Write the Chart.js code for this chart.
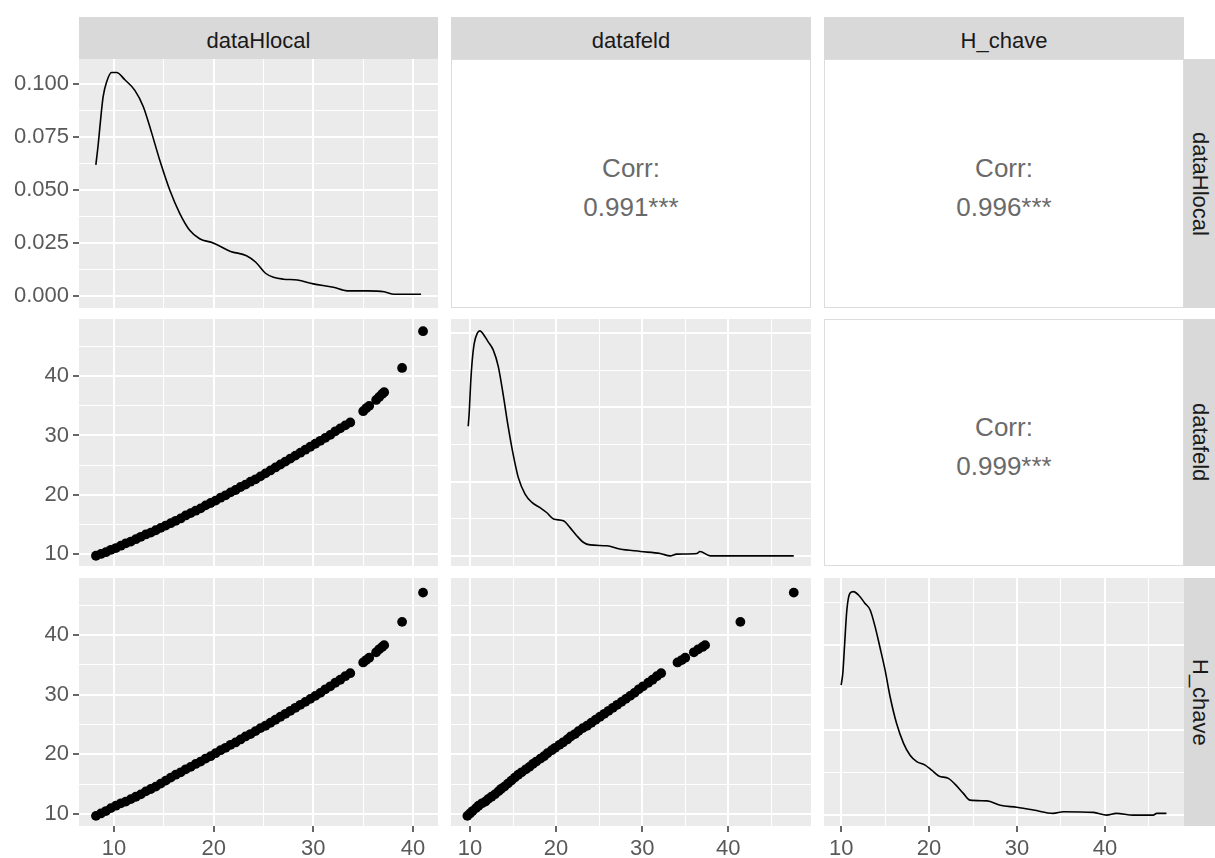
<!DOCTYPE html>
<html>
<head>
<meta charset="utf-8">
<script src="https://cdn.jsdelivr.net/npm/chart.js@4.4.0/dist/chart.umd.min.js"></script>
<style>
  body { margin: 0; background: #fff; width: 1215px; height: 858px; position: relative; overflow: hidden;
         font-family: "Liberation Sans", Arial, sans-serif; }
  .strip { position: absolute; background: #d9d9d9; color: #1a1a1a; font-size: 22px;
           display: flex; align-items: center; justify-content: center; }
  .strip span { position: relative; top: 3px; }
  .strip.right span { writing-mode: vertical-rl; top: 0; left: 0; }
  .corr { position: absolute; background: #fff; border: 1px solid #dcdcdc; box-sizing: border-box;
          display: flex; flex-direction: column; align-items: center; justify-content: center;
          color: #6a6a6a; font-size: 26px; line-height: 39px; padding-top: 8px; }
</style>
</head>
<body>
<script>
// variables of the pairs plot
const varNames = ['dataHlocal', 'datafeld', 'H_chave'];

const dataHlocal = [8.2, 8.7, 9.2, 9.7, 10.2, 10.7, 11.2, 11.7, 12.2, 12.7, 13.2, 13.7, 14.2, 14.7, 15.2, 15.7,
  16.2, 16.7, 17.2, 17.7, 18.2, 18.7, 19.2, 19.7, 20.2, 20.7, 21.2, 21.7, 22.2, 22.7, 23.2, 23.7, 24.2, 24.7,
  25.2, 25.7, 26.2, 26.7, 27.2, 27.7, 28.2, 28.7, 29.2, 29.7, 30.2, 30.7, 31.2, 31.7, 32.2, 32.7, 33.2, 33.7,
  35.0, 35.3, 35.6, 36.3, 36.6, 36.9, 37.1, 38.9, 41.0];
const datafeld = [9.7, 10.0, 10.3, 10.7, 11.0, 11.4, 11.8, 12.1, 12.5, 12.9, 13.3, 13.6, 14.0, 14.4, 14.8, 15.2,
  15.6, 16.0, 16.5, 16.9, 17.3, 17.7, 18.2, 18.6, 19.0, 19.5, 19.9, 20.4, 20.8, 21.3, 21.7, 22.2, 22.6, 23.1,
  23.6, 24.1, 24.6, 25.1, 25.6, 26.1, 26.6, 27.1, 27.6, 28.1, 28.6, 29.1, 29.6, 30.1, 30.7, 31.2, 31.7, 32.2,
  34.1, 34.6, 35.0, 36.0, 36.5, 37.0, 37.3, 41.4, 47.6];
const H_chave = [9.7, 10.1, 10.5, 11.0, 11.4, 11.8, 12.1, 12.5, 12.9, 13.3, 13.8, 14.2, 14.6, 15.1, 15.6, 16.1,
  16.6, 17.0, 17.5, 17.9, 18.4, 18.8, 19.3, 19.7, 20.2, 20.7, 21.1, 21.6, 22.0, 22.5, 23.0, 23.4, 23.9, 24.4,
  24.8, 25.3, 25.8, 26.3, 26.8, 27.3, 27.8, 28.3, 28.8, 29.3, 29.8, 30.3, 30.9, 31.4, 32.0, 32.5, 33.1, 33.6,
  35.4, 35.8, 36.2, 37.1, 37.6, 38.0, 38.3, 42.2, 47.1];

// diagonal density curves
const densHlocalX = [8.19, 8.42, 8.6, 8.92, 9.27, 9.77, 10.27, 11.1, 12.1, 12.95, 13.8, 14.6, 15.6, 16.6, 17.6,
  18.6, 19.95, 21.7, 23.3, 24.2, 25.2, 26.0, 27.0, 28.4, 30.0, 32.0, 33.4, 35.4, 37.1, 38.1, 40.8];
const densHlocalY = [0.0618, 0.0712, 0.080, 0.094, 0.101, 0.1054, 0.1054, 0.102, 0.097, 0.0893, 0.0767, 0.064,
  0.050, 0.039, 0.031, 0.027, 0.025, 0.021, 0.019, 0.016, 0.0107, 0.0088, 0.0079, 0.0075, 0.0057, 0.0041,
  0.0024, 0.0024, 0.002, 0.0008, 0.0008];
const densFeldX = [9.8, 9.92, 10.08, 10.27, 10.5, 10.85, 11.16, 11.55, 12.1, 12.7, 13.3, 13.9, 14.45, 15.0, 15.6,
  16.4, 17.2, 18.1, 18.9, 19.7, 20.85, 21.6, 22.4, 23.2, 23.95, 25.9, 27.4, 29.8, 32.1, 33.25, 34.0, 36.35,
  36.7, 37.9, 47.6];
const densFeldY = [0.0436, 0.0484, 0.058, 0.0659, 0.0715, 0.0749, 0.0757, 0.0746, 0.0721, 0.0693, 0.0636,
  0.0535, 0.0433, 0.0344, 0.0265, 0.0208, 0.018, 0.0163, 0.0146, 0.0124, 0.0118, 0.0096, 0.0068, 0.0045,
  0.0037, 0.0034, 0.0023, 0.0015, 0.0008, 0, 0.0006, 0.0008, 0.0015, 0, 0];
const densChaveX = [10.0, 10.19, 10.38, 10.65, 11.0, 11.4, 11.97, 12.7, 13.3, 13.86, 14.4, 15.0, 15.57, 16.3,
  17.1, 17.84, 18.6, 19.55, 20.3, 21.1, 22.2, 22.95, 23.9, 24.66, 26.6, 28.1, 29.97, 31.9, 34.1, 35.3, 38.7,
  40.2, 41.3, 43.2, 45.5, 45.9, 47.0];
const densChaveY = [0.0382, 0.0417, 0.0495, 0.0603, 0.0652, 0.0657, 0.0647, 0.0623, 0.0603, 0.0554, 0.0495,
  0.0426, 0.0348, 0.027, 0.0211, 0.0176, 0.0157, 0.0147, 0.0132, 0.0115, 0.0108, 0.0091, 0.0064, 0.0044,
  0.0042, 0.0029, 0.0023, 0.0015, 0.0005, 0.001, 0.0008, 0, 0.0005, 0, 0, 0.0005, 0.0005];

// correlations shown in the upper triangle
const corrValues = [0.991, 0.996, 0.999];

// breaks
const valueTicks = [10, 20, 30, 40];
const valueMinor = [15, 25, 35, 45];
const densityTicks = [0, 0.025, 0.05, 0.075, 0.1];
const densityMinor = [0.0125, 0.0375, 0.0625, 0.0875];

// axis limits (ggplot expanded ranges)
const xLimits = [[6.5, 42.5], [7.8, 49.6], [8.05, 49.0]];
const yLimits = [[-0.0057, 0.1118], [7.97, 49.66], [8.0, 49.55]];
const diagLimits = [null, [-0.0034, 0.0797], [-0.0032, 0.0697]];

// layout in page pixels
const colX = [[79, 438], [451, 811], [824, 1184]];
const rowY = [[59, 308], [319, 566], [578, 826]];
const AXIS_W = 79;
const AXIS_H = 32;

Chart.defaults.font.family = '"Liberation Sans", Arial, sans-serif';
Chart.defaults.font.size = 22;
Chart.defaults.color = '#595959';

const panelBg = {
  id: 'panelBg',
  beforeDraw(chart) {
    const { ctx, chartArea: a } = chart;
    ctx.save();
    ctx.fillStyle = '#ebebeb';
    ctx.fillRect(a.left, a.top, a.right - a.left, a.bottom - a.top);
    ctx.restore();
  }
};

function isIn(list, v) {
  return list.some(m => Math.abs(m - v) < 1e-9);
}

function axis(dir, range, majors, minors, labelled, fmt) {
  const values = majors.concat(minors)
    .filter(v => v >= range[0] && v <= range[1])
    .sort((a, b) => a - b);
  return {
    type: 'linear',
    position: dir === 'x' ? 'bottom' : 'left',
    min: range[0],
    max: range[1],
    afterBuildTicks: s => { s.ticks = values.map(v => ({ value: v })); },
    afterFit: s => {
      if (dir === 'x') s.height = labelled ? AXIS_H : 0;
      else s.width = labelled ? AXIS_W : 0;
      s.paddingLeft = s.paddingRight = s.paddingTop = s.paddingBottom = 0;
    },
    border: { display: false },
    grid: {
      color: '#ffffff',
      lineWidth: c => (c.tick && isIn(majors, c.tick.value)) ? 2 : 1,
      drawTicks: labelled,
      tickLength: 6,
      tickWidth: 1.5,
      tickColor: c => (c.tick && isIn(majors, c.tick.value)) ? '#333333' : 'rgba(0,0,0,0)'
    },
    ticks: {
      display: labelled,
      autoSkip: false,
      maxRotation: 0,
      padding: 4,
      color: '#595959',
      callback: v => isIn(majors, v) ? fmt(v) : ''
    }
  };
}

const fmtValue = v => String(v);
const fmtDensity = v => v.toFixed(3);

function panel(row, col, datasets, yAxisOpts) {
  const left = col === 0 ? 0 : colX[col][0];
  const top = rowY[row][0];
  const width = colX[col][1] - left;
  const height = rowY[row][1] - top + (row === 2 ? AXIS_H : 0);
  const cv = document.createElement('canvas');
  cv.width = width;
  cv.height = height;
  cv.style.cssText = `position:absolute;left:${left}px;top:${top}px;width:${width}px;height:${height}px`;
  document.body.appendChild(cv);
  new Chart(cv, {
    type: 'scatter',
    data: { datasets },
    options: {
      responsive: false,
      animation: false,
      events: [],
      layout: { padding: 0, autoPadding: false },
      plugins: { legend: { display: false }, tooltip: { enabled: false } },
      scales: {
        x: axis('x', xLimits[col], valueTicks, valueMinor, row === 2, fmtValue),
        y: yAxisOpts
      }
    },
    plugins: [panelBg]
  });
}

function yAxisFor(row, col) {
  if (row === col) {
    if (row === 0) return axis('y', yLimits[0], densityTicks, densityMinor, true, fmtDensity);
    return axis('y', diagLimits[row], densityTicks, densityMinor, false, fmtDensity);
  }
  return axis('y', yLimits[row], valueTicks, valueMinor, col === 0, fmtValue);
}

function points(xs, ys) {
  return {
    data: xs.map((x, i) => ({ x, y: ys[i] })),
    pointRadius: 4.9,
    pointBackgroundColor: '#000000',
    pointBorderWidth: 0
  };
}

function curve(xs, ys) {
  return {
    data: xs.map((x, i) => ({ x, y: ys[i] })),
    showLine: true,
    borderColor: '#000000',
    borderWidth: 1.6,
    pointRadius: 0,
    cubicInterpolationMode: 'monotone'
  };
}

const series = [dataHlocal, datafeld, H_chave];
const densities = [[densHlocalX, densHlocalY], [densFeldX, densFeldY], [densChaveX, densChaveY]];

// lower triangle + diagonal
for (let r = 0; r < 3; r++) {
  for (let c = 0; c <= r; c++) {
    const ds = r === c ? [curve(densities[r][0], densities[r][1])] : [points(series[c], series[r])];
    panel(r, c, ds, yAxisFor(r, c));
  }
}

// upper triangle: correlation text
const corrCells = [[0, 1], [0, 2], [1, 2]];
corrCells.forEach(([r, c], i) => {
  const d = document.createElement('div');
  d.className = 'corr';
  d.style.cssText = `left:${colX[c][0]}px;top:${rowY[r][0]}px;width:${colX[c][1] - colX[c][0]}px;height:${rowY[r][1] - rowY[r][0]}px`;
  d.innerHTML = `<div>Corr:</div><div>${corrValues[i].toFixed(3)}***</div>`;
  document.body.appendChild(d);
});

// facet strips
varNames.forEach((name, c) => {
  const s = document.createElement('div');
  s.className = 'strip';
  s.style.cssText = `left:${colX[c][0]}px;top:17px;width:${colX[c][1] - colX[c][0]}px;height:42px`;
  s.innerHTML = `<span>${name}</span>`;
  document.body.appendChild(s);
});
varNames.forEach((name, r) => {
  const s = document.createElement('div');
  s.className = 'strip right';
  s.style.cssText = `left:1184px;top:${rowY[r][0]}px;width:31px;height:${rowY[r][1] - rowY[r][0]}px`;
  s.innerHTML = `<span>${name}</span>`;
  document.body.appendChild(s);
});
</script>
</body>
</html>
